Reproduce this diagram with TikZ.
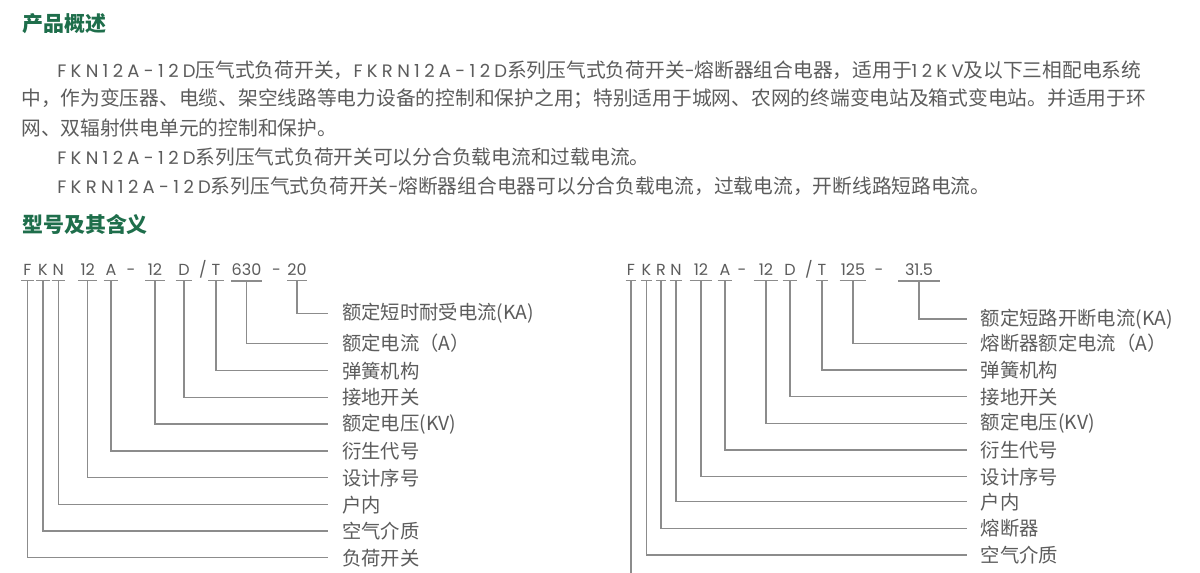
\documentclass[tikz,border=0pt]{standalone}
\usepackage{fontspec}
\setmainfont{Noto Sans CJK SC}
\newfontfamily\lat{Poppins}[LetterSpace=24]
\newfontfamily\codefont{Poppins}
\usepackage{xcolor}
\definecolor{hgreen}{RGB}{30,110,75}
\definecolor{tgray}{RGB}{92,92,92}
\definecolor{lgray}{RGB}{140,140,140}
\newcommand{\en}[1]{{\lat\fontsize{13.5}{16}\selectfont #1}}

\begin{document}
\begin{tikzpicture}[x=0.75pt,y=-0.75pt,
  head/.style={anchor=west,inner sep=0pt,text=hgreen,font=\fontsize{15.7}{18}\selectfont\bfseries},
  body/.style={anchor=west,inner sep=0pt,text=tgray,font=\fontsize{14.8}{18}\selectfont},
  code/.style={anchor=base,inner xsep=0pt,inner ysep=3.4pt,text=tgray,font=\codefont\fontsize{12}{14}\selectfont},
  lbl/.style={anchor=west,inner xsep=10.5pt,inner ysep=0pt,text=tgray,font=\fontsize{14.5}{17}\selectfont},
  bar/.style={lgray,line width=1pt},
  link/.style={lgray,line width=1pt}]
\useasboundingbox[fill=white](0,0) rectangle (1200,573);
\node[head] (h1) at (22,24) {产品概述};
\node[body] (p1) at (57,70) {\en{FKN12A-12D}压气式负荷开关，\en{FKRN12A-12D}系列压气式负荷开关\en{-}熔断器组合电器，适用于\en{12KV}及以下三相配电系统};
\node[body] (p2) at (21,99) {中，作为变压器、电缆、架空线路等电力设备的控制和保护之用；特别适用于城网、农网的终端变电站及箱式变电站。并适用于环};
\node[body] (p3) at (21,128) {网、双辐射供电单元的控制和保护。};
\node[body] (p4) at (57,157) {\en{FKN12A-12D}系列压气式负荷开关可以分合负载电流和过载电流。};
\node[body] (p5) at (57,186) {\en{FKRN12A-12D}系列压气式负荷开关\en{-}熔断器组合电器可以分合负载电流，过载电流，开断线路短路电流。};
\node[head] (h2) at (22,225) {型号及其含义};
% FKN12A-12D/T630-20
\foreach \x/\w/\txt/\y/\lab [count=\i] in {27.5/12/F/557.7/负荷开关,43/12.5/K/531/空气介质,
  58.3/13/N/504.7/户内,87.7/19/12/477.7/设计序号,111/14/A/451/衍生代号,155/19/12/424/额定电压(KV),
  184/16/D/397.3/接地开关,216/15/T/370.7/弹簧机构,246.5/30/630/343.3/额定电流（A）,
  297/18/20/313.3/额定短时耐受电流(KA)}{
\node[code,minimum width=\w*0.75pt] (L\i) at (\x,276) {\txt};
\node[lbl] (Lt\i) at (328,\y) {\lab};
\draw[bar] (L\i.south west) -- (L\i.south east);
\draw[link] (L\i.south) |- (Lt\i.west);}
\foreach \x/\s [count=\i] in {131/-,203/{/},276.5/-}{
\node[code] (Lm\i) at (\x,276) {\s};}
% FKRN12A-12D/T125-31.5
\foreach \x/\w/\txt/\y/\lab [count=\i] in {646.5/10/K/555/空气介质,661/9/R/528.3/熔断器,
  676/12/N/501.7/户内,701/22/12/476.7/设计序号,725/14/A/450/衍生代号,766/24/12/423.3/额定电压(KV),
  790/14/D/396.7/接地开关,822/11/T/370/弹簧机构,853/26/125/343.3/熔断器额定电流（A）,
  919/41/31.5/319/额定短路开断电流(KA)}{
\node[code,minimum width=\w*0.75pt] (R\i) at (\x,276) {\txt};
\node[lbl] (Rt\i) at (966.7,\y) {\lab};
\draw[bar] (R\i.south west) -- (R\i.south east);
\draw[link] (R\i.south) |- (Rt\i.west);}
\node[code,minimum width=7.5pt] (R0) at (631,276) {F};
\coordinate (Rend) at (631,580);
\draw[bar] (R0.south west) -- (R0.south east);
\draw[link] (R0.south) -- (Rend);
\foreach \x/\s [count=\i] in {742/-,809/{/},879/-}{
\node[code] (Rm\i) at (\x,276) {\s};}
\end{tikzpicture}
\end{document}
